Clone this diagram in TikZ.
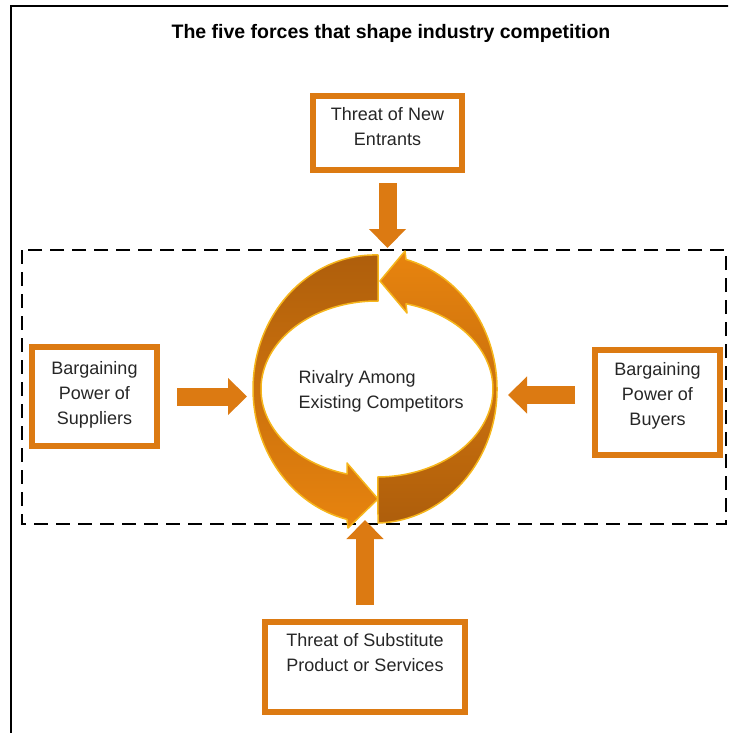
\documentclass[tikz,border=0pt]{standalone}
\usepackage{fontspec}
\setmainfont{Liberation Sans}
\usetikzlibrary{arrows.meta,calc}

\definecolor{forceorange}{HTML}{DC7A12}
\definecolor{rivaldark}{HTML}{AE5E0C}
\definecolor{rivallight}{HTML}{E8840E}
\definecolor{rivaledge}{HTML}{F6B61C}
\definecolor{boxtext}{HTML}{262626}

\tikzset{
  forcebox/.style={draw=forceorange, line width=6pt, align=center, inner sep=0pt,
    text=boxtext, font=\fontsize{18}{25}\selectfont},
  force/.style={draw=forceorange, line width=18pt, -{Triangle[width=36pt,length=19pt]}},
  rival/.style={draw=rivaledge, line width=1.5pt, line join=round},
}

\begin{document}
\begin{tikzpicture}[x=1pt,y=-1pt]
  \useasboundingbox (0,0) rectangle (728,733);
  \clip (0,0) rectangle (728,733);
  % frame and the dashed industry boundary
  \draw[line width=2pt] (11,760) -- (11,6) -- (760,6);
  \draw[line width=1.8pt, dash pattern=on 14pt off 8pt] (22,250) rectangle (726,524);

  \node[font=\bfseries\fontsize{19.5}{22}\selectfont] (title) at (391,33)
    {The five forces that shape industry competition};

  % the four outer forces
  \node[forcebox, minimum width=149pt, minimum height=74pt, text depth=14pt] (entrants) at (387.5,133)
    {Threat of New\\Entrants};
  \node[forcebox, minimum width=125pt, minimum height=99pt, text depth=8pt] (suppliers) at (94.5,396.5)
    {Bargaining\\Power of\\Suppliers};
  \node[forcebox, minimum width=125pt, minimum height=105pt, text depth=18pt] (buyers) at (657.5,402.5)
    {Bargaining\\Power of\\Buyers};
  \node[forcebox, minimum width=200pt, minimum height=90pt, text depth=29pt] (substitutes) at (365,667)
    {Threat of Substitute\\Product or Services};

  % rivalry ring: two curved arrows
  \fill[rival, top color=rivaldark, middle color=rivallight!85!rivaldark, bottom color=rivallight]
    (378,255) arc[start angle=-88.6, end angle=-256.7, x radius=122, y radius=134]
    -- (348,528) -- (378,499) -- (347,463) -- (347,474)
    arc[start angle=-255, end angle=-89.5, x radius=116, y radius=88] -- cycle;
  \fill[rival, top color=rivallight, middle color=rivallight!80!rivaldark, bottom color=rivaldark]
    (378,523) arc[start angle=88.6, end angle=-75.3, x radius=122, y radius=134]
    -- (405,251) -- (380,281) -- (407,313) -- (406,303.8)
    arc[start angle=-75.5, end angle=89.5, x radius=116, y radius=88] -- cycle;
  \node[align=left, anchor=west, text=boxtext, font=\fontsize{18}{25}\selectfont] (rivalry) at (295,391)
    {Rivalry Among\\Existing Competitors};

  % straight arrows into the ring
  \coordinate (tipN) at (387.5,248);
  \coordinate (tipW) at (247,396.5);
  \coordinate (tipE) at (508,395);
  \coordinate (tipS) at (365,520);
  \draw[force] ([yshift=-10pt]entrants.south) -- (tipN);
  \draw[force] ([xshift=17pt]suppliers.east) -- (tipW);
  \draw[force] ($(buyers.west |- tipE)+(-17,0)$) -- (tipE);
  \draw[force] ([yshift=14pt]substitutes.north) -- (tipS);
\end{tikzpicture}
\end{document}
